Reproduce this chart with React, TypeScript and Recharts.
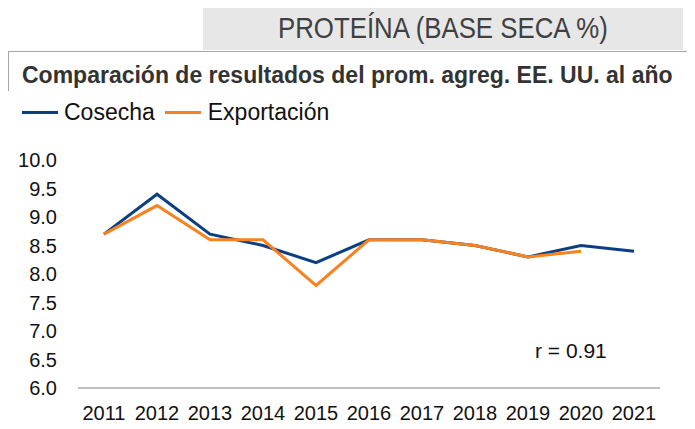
import { LineChart, Line, XAxis, YAxis } from 'recharts'

const years = ['2011', '2012', '2013', '2014', '2015', '2016', '2017', '2018', '2019', '2020', '2021']
const cosecha = [8.7, 9.4, 8.7, 8.5, 8.2, 8.6, 8.6, 8.5, 8.3, 8.5, 8.4]
const exportacion: (number | null)[] = [8.7, 9.2, 8.6, 8.6, 7.8, 8.6, 8.6, 8.5, 8.3, 8.4, null]
const yTicks = [6, 6.5, 7, 7.5, 8, 8.5, 9, 9.5, 10]

const BLUE = '#0c3f82'
const ORANGE = '#f7821f'
const FONT = '"Liberation Sans Narrow", "Arial Narrow", "Liberation Sans", Arial, sans-serif'

const data = years.map((y, i) => ({ year: y, cosecha: cosecha[i], exportacion: exportacion[i] }))

export default function App() {
  return (
    <div style={{ position: 'relative', width: 695, height: 429, margin: -8, background: '#fff', fontFamily: FONT, overflow: 'hidden' }}>
      <div style={{ position: 'absolute', left: 203, top: 5, width: 480, height: 45, background: '#e7e7e8' }} />
      <div
        style={{
          position: 'absolute', left: 278, top: 5, height: 45, lineHeight: '45px', color: '#404040', fontSize: 30,
          whiteSpace: 'nowrap', transform: 'scaleX(0.86)', transformOrigin: 'left center',
        }}
      >
        PROTEÍNA (BASE SECA %)
      </div>
      <div style={{ position: 'absolute', left: 8, top: 51, width: 687, height: 1, background: '#a6a6a6' }} />
      <div style={{ position: 'absolute', left: 8, top: 51, width: 1, height: 40, background: '#a6a6a6' }} />
      <div style={{ position: 'absolute', left: 22, top: 62, fontSize: 23, fontWeight: 'bold', color: '#333', whiteSpace: 'nowrap' }}>
        Comparación de resultados del prom. agreg. EE. UU. al año
      </div>
      <div style={{ position: 'absolute', left: 22, top: 99, fontSize: 23, color: '#111', display: 'flex', alignItems: 'center', whiteSpace: 'nowrap' }}>
        <span style={{ display: 'inline-block', width: 36, height: 3, background: BLUE, marginRight: 6 }} />
        <span style={{ marginRight: 10 }}>Cosecha</span>
        <span style={{ display: 'inline-block', width: 36, height: 3, background: ORANGE, marginRight: 7 }} />
        <span>Exportación</span>
      </div>
      <div style={{ position: 'absolute', left: 535, top: 339, fontSize: 21, color: '#111' }}>r = 0.91</div>
      <div style={{ position: 'absolute', left: 0, top: 0 }}>
        <LineChart width={695} height={429} data={data} margin={{ top: 160, right: 35, bottom: 0, left: 8 }}>
          <XAxis
            dataKey="year"
            height={41}
            padding={{ left: 26, right: 26 }}
            axisLine={{ stroke: '#bfbfbf', strokeWidth: 2 }}
            tickLine={false}
            tickSize={0}
            tickMargin={18}
            interval={0}
            tick={{ fill: '#111', fontSize: 20, fontFamily: FONT }}
          />
          <YAxis
            width={70}
            domain={[6, 10]}
            ticks={yTicks}
            interval={0}
            axisLine={false}
            tickLine={false}
            tickSize={0}
            tickMargin={21}
            tickFormatter={(v: number) => v.toFixed(1)}
            tick={{ fill: '#111', fontSize: 20, fontFamily: FONT }}
          />
          <Line dataKey="cosecha" stroke={BLUE} strokeWidth={3} dot={false} isAnimationActive={false} />
          <Line dataKey="exportacion" stroke={ORANGE} strokeWidth={3} dot={false} isAnimationActive={false} />
        </LineChart>
      </div>
    </div>
  )
}
